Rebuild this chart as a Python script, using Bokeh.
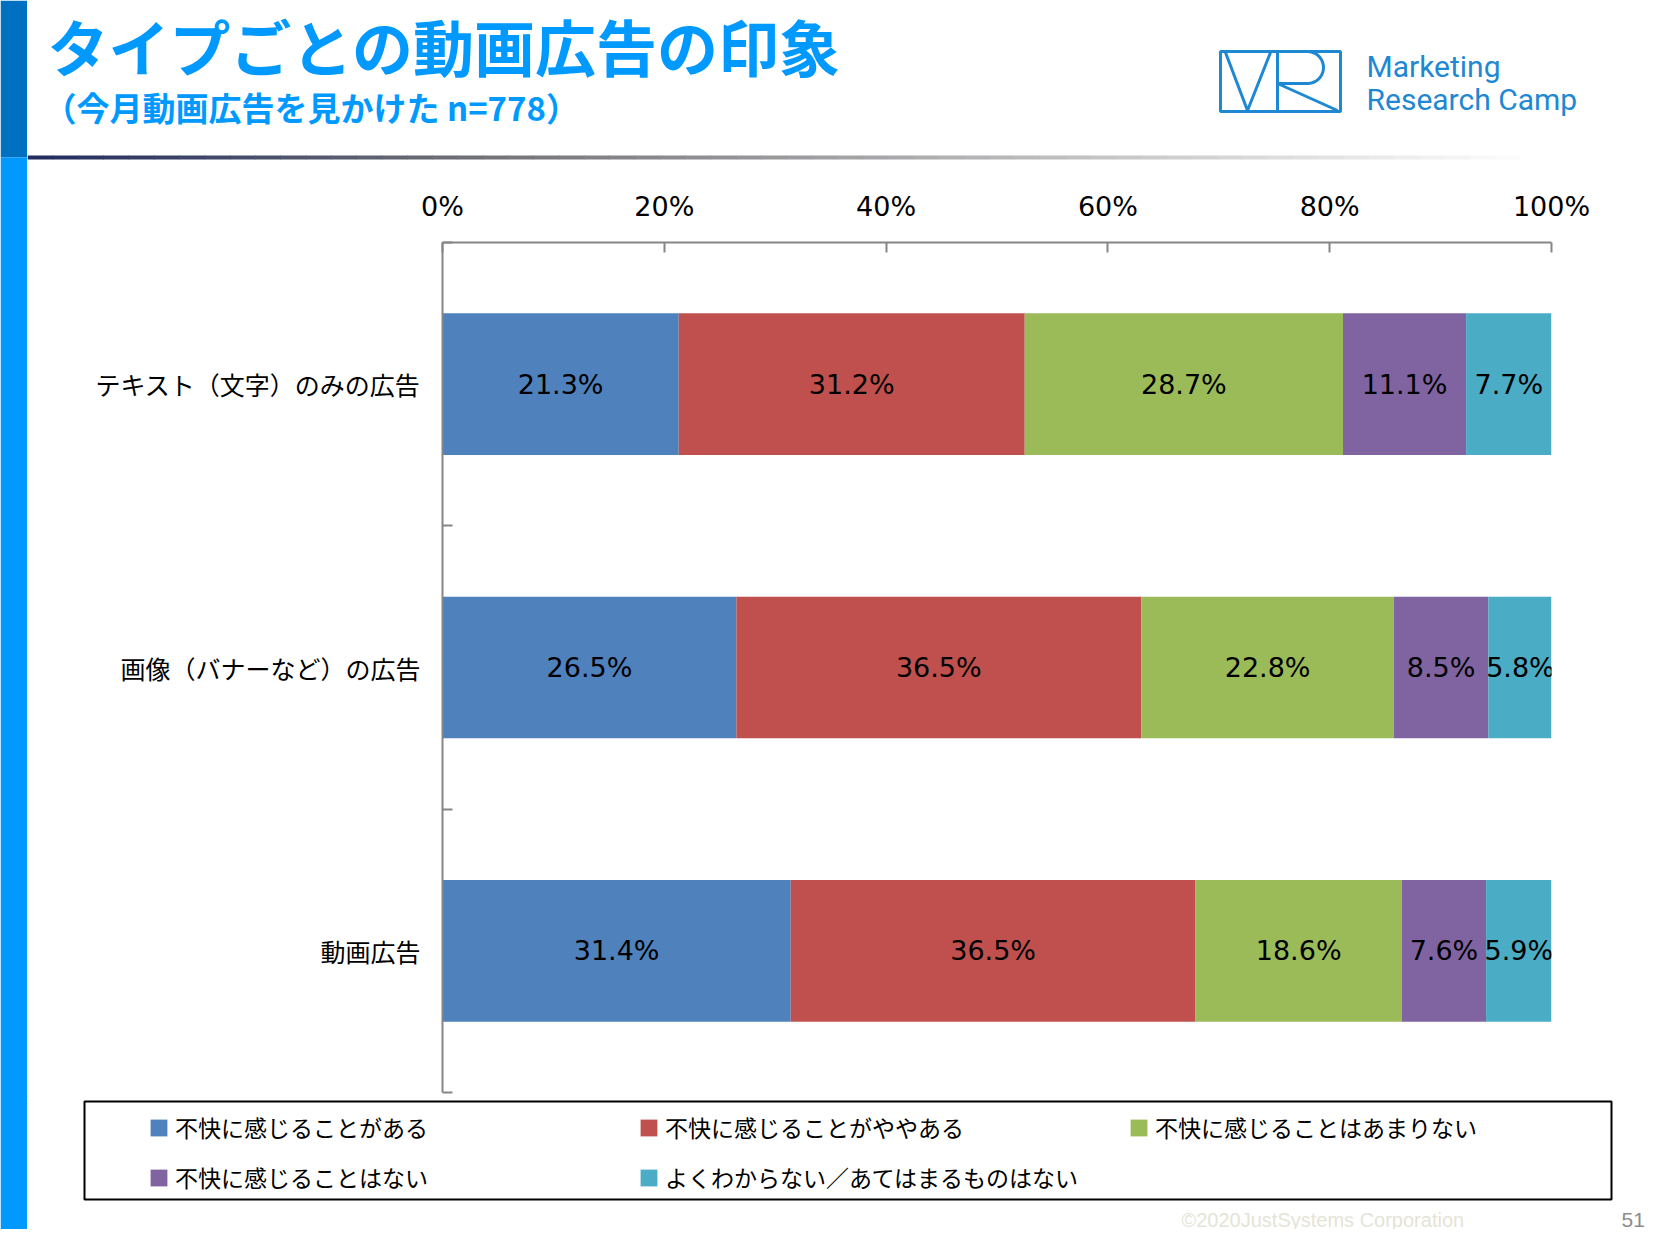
from bokeh.plotting import figure
from bokeh.layouts import row, column
from bokeh.models import (Range1d, LinearAxis, FixedTicker, Legend, LegendItem, ColumnDataSource)
from bokeh.embed import file_html
from bokeh.resources import INLINE
from bokeh.core.properties import value
import math

# ---------------- data ----------------
categories = ["テキスト（文字）のみの広告", "画像（バナーなど）の広告", "動画広告"]
series_names = ["不快に感じることがある", "不快に感じることがややある",
                "不快に感じることはあまりない", "不快に感じることはない",
                "よくわからない／あてはまるものはない"]
s1 = [21.3, 26.5, 31.4]
s2 = [31.2, 36.5, 36.5]
s3 = [28.7, 22.8, 18.6]
s4 = [11.1, 8.5, 7.6]
s5 = [7.7, 5.8, 5.9]
tick_values = [0, 20, 40, 60, 80, 100]
tick_labels = ["0%", "20%", "40%", "60%", "80%", "100%"]
colors = ["#4F81BD", "#C0504D", "#9BBB59", "#8064A2", "#4BACC6"]
title_text = "タイプごとの動画広告の印象"
subtitle_text = "（今月動画広告を見かけた n=778）"
logo_lines = ["Marketing", "Research Camp"]
footer_text = "©2020JustSystems Corporation"
page_no = "51"

FONT = "'DejaVu Sans', 'Noto Sans CJK JP'"
JFONT = "Noto Sans CJK JP"

W, H = 1647, 1229
BAND = 27
HEAD_H = 168
CHART_H = 928
BOT_H = H - HEAD_H - CHART_H
CW = W - BAND


def deco_fig(width, height, x0, x1, y_top, y_bot):
    f = figure(width=width, height=height, x_range=Range1d(x0, x1),
               y_range=Range1d(y_bot, y_top), x_axis_type=None, y_axis_type=None,
               toolbar_location=None, output_backend="svg", min_border=0,
               outline_line_color=None, background_fill_color="white",
               border_fill_color="white", frame_align=False)
    f.grid.visible = False
    return f


# ---------- left band ----------
band = deco_fig(BAND, H, 0, BAND, 0, H)
band.quad(left=[0, 0], right=[BAND, BAND], top=[0, 157], bottom=[157, H],
          fill_color=["#0070C0", "#0099FF"], line_color=None)

# ---------- header ----------
head = deco_fig(CW, HEAD_H, BAND, W, 0, HEAD_H)
n = 60
gx0, gx1 = BAND, 1545
gl, gr, gc = [], [], []
for i in range(n):
    t = i / (n - 1)
    if t < 0.3:
        u = t / 0.3
        c = (int(35 + 80 * u), int(45 + 70 * u), int(95 + 25 * u))
    else:
        u = (t - 0.3) / 0.7
        c = (int(115 + 140 * u), int(115 + 140 * u), int(120 + 135 * u))
    gl.append(gx0 + (gx1 - gx0) * i / n)
    gr.append(gx0 + (gx1 - gx0) * (i + 1) / n + 0.6)
    gc.append("#%02x%02x%02x" % c)
head.quad(left=gl, right=gr, top=[155] * n, bottom=[159] * n, fill_color=gc, line_color=None)

head.text(x=[47], y=[45], text=[title_text], text_font=value(JFONT), text_font_size="61px",
          text_font_style="bold", text_color="#0099FF", text_baseline="middle", text_align="left")
head.text(x=[43], y=[106], text=[subtitle_text], text_font=value(JFONT), text_font_size="33px",
          text_font_style="bold", text_color="#0099FF", text_baseline="middle", text_align="left")

LC = "#1E88D2"
head.quad(left=[1220], right=[1340], top=[51], bottom=[111], fill_alpha=0, line_color=LC, line_width=3)
arc_x = [1277, 1307]
arc_y = [51, 51]
for k in range(1, 20):
    ang = math.pi / 2 - math.pi * k / 20
    arc_x.append(1307 + 16 * math.cos(ang))
    arc_y.append(67 - 16 * math.sin(ang))
arc_x += [1307, 1277]
arc_y += [83, 83]
head.multi_line(xs=[[1225, 1247, 1270], [1277, 1277], arc_x, [1277, 1337]],
                ys=[[52, 110, 52], [51, 111], arc_y, [83, 110]],
                line_color=LC, line_width=3)
head.text(x=[1366, 1366], y=[66, 99], text=logo_lines, text_font=value("Roboto"),
          text_font_size="30px", text_color=LC, text_baseline="alphabetic", text_align="left")

# ---------- chart ----------
p = figure(width=CW, height=CHART_H, x_range=Range1d(0, 100), y_range=Range1d(3, 0),
           x_axis_type=None, y_axis_type=None, toolbar_location=None,
           output_backend="svg", min_border_left=442 - BAND, min_border_right=W - 1551,
           min_border_top=242 - HEAD_H, min_border_bottom=4, outline_line_color=None,
           background_fill_color="white", border_fill_color="white", frame_align=False)

cat_pos = [i + 0.5 for i in range(len(categories))]

xa = LinearAxis(ticker=FixedTicker(ticks=tick_values, minor_ticks=[]),
                major_label_overrides=dict(zip(tick_values, tick_labels)))
xa.major_tick_in = 10
xa.major_tick_out = 0
xa.axis_line_color = "#868686"
xa.axis_line_width = 2
xa.major_tick_line_color = "#868686"
xa.major_tick_line_width = 2
xa.major_label_text_font = FONT
xa.major_label_text_font_size = "27px"
xa.major_label_text_color = "black"
xa.major_label_standoff = 21
p.add_layout(xa, "above")

ya = LinearAxis(ticker=FixedTicker(ticks=cat_pos, minor_ticks=[0, 1, 2, 3]),
                major_label_overrides=dict(zip(cat_pos, categories)))
ya.major_tick_line_color = None
ya.major_tick_in = 0
ya.major_tick_out = 0
ya.minor_tick_in = 10
ya.minor_tick_out = 0
ya.minor_tick_line_color = "#868686"
ya.minor_tick_line_width = 2
ya.axis_line_color = "#868686"
ya.axis_line_width = 2
ya.major_label_text_font = JFONT
ya.major_label_text_font_size = "25px"
ya.major_label_text_color = "black"
ya.major_label_standoff = 22
p.add_layout(ya, "left")

series = [s1, s2, s3, s4, s5]
keys = ["s1", "s2", "s3", "s4", "s5"]
data = dict(y=cat_pos)
for k, s in zip(keys, series):
    data[k] = s
src = ColumnDataSource(data)
rs = p.hbar_stack(keys, y="y", height=0.5, fill_color=colors, line_color=None, source=src)

lx, ly, lt = [], [], []
for i in range(len(categories)):
    left = 0.0
    for s in series:
        v = s[i]
        lx.append(left + v / 2.0)
        ly.append(cat_pos[i])
        lt.append(f"{v:.1f}%")
        left += v
p.text(x=lx, y=ly, text=lt, text_align="center", text_baseline="middle",
       text_font=value(FONT), text_font_size="27px", text_color="black")

# ---------- bottom: legend + footer ----------
bot = deco_fig(CW, BOT_H, BAND, W, HEAD_H + CHART_H, H)
# legend swatches: one off-screen bar per series so the legend has glyphs to draw
dummies = [bot.hbar(y=[-5000], left=[0], right=[1], height=1, fill_color=c, line_color=None)
           for c in colors]
items = [LegendItem(label=nm, renderers=[r]) for nm, r in zip(series_names, dummies)]
legend = Legend(items=items, location=(148 - BAND, H - 1194), orientation="horizontal",
                ncols=3, glyph_width=21, glyph_height=21, label_standoff=6, label_width=447,
                label_height=34, spacing=16, padding=0, margin=0,
                border_line_color=None, background_fill_alpha=0,
                label_text_font=JFONT, label_text_font_size="23px",
                label_text_color="black")
bot.add_layout(legend)
bot.quad(left=[84], right=[1611], top=[1101], bottom=[1199], fill_alpha=0,
         line_color="black", line_width=2)
bot.text(x=[1181], y=[1219], text=[footer_text], text_font=value("Liberation Sans"),
         text_font_size="20px", text_color="#E4E4D6", text_baseline="middle", text_align="left")
bot.text(x=[1621], y=[1219], text=[page_no], text_font=value("Liberation Sans"),
         text_font_size="21px", text_color="#8C8C8C", text_baseline="middle", text_align="left")

layout = row(band, column(head, p, bot, spacing=0), spacing=0)
open("out.html", "w").write(file_html(layout, INLINE))
